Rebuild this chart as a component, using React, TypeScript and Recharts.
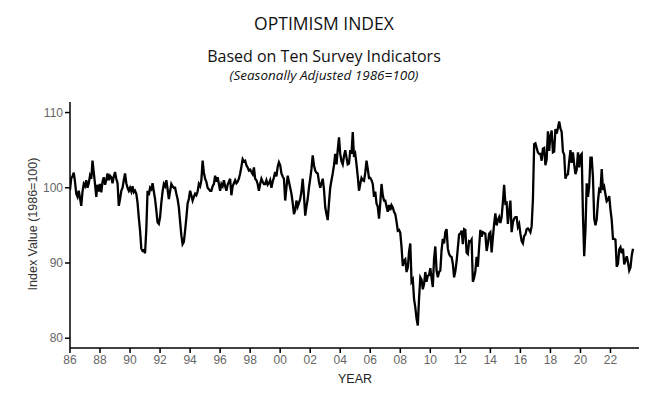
import React from "react";
import { LineChart, Line, XAxis, YAxis } from "recharts";

// monthly index values, Jan 1986 .. Jul 2023
const idx1986to1995 = [
  99.7, 101.3, 101.5, 102.0, 100.8, 99.2, 98.8, 99.6, 98.6, 97.6, 99.5, 100.5,
  100.2, 101.0, 100.0, 100.6, 101.6, 101.2, 103.6, 102.0, 100.5, 98.8, 100.4, 99.5,
  100.5, 99.4, 100.8, 101.4, 100.4, 101.0, 101.9, 101.0, 101.6, 101.4, 100.6, 101.5,
  102.1, 101.2, 100.6, 97.6, 98.5, 99.6, 100.0, 101.0, 101.9, 100.6, 100.0, 99.6,
  100.0, 99.5, 100.2, 99.4, 99.6, 99.2, 98.0, 96.0, 94.3, 91.9, 91.6, 91.7,
  91.3, 94.5, 99.6, 99.0, 100.0, 99.8, 100.6, 99.5, 98.5, 97.0, 95.4, 95.2,
  96.1, 98.0, 99.5, 100.5, 100.2, 101.0, 99.8, 98.5, 99.5, 100.5, 100.2, 100.0,
  100.0, 99.2, 98.5, 97.4, 95.5, 93.7, 92.5, 92.8, 94.3, 96.0, 97.9, 98.5,
  99.6, 99.0, 98.3, 98.8, 99.2, 99.0, 99.5, 100.5, 100.2, 101.0, 103.6, 102.0,
  101.2, 100.8, 100.0, 99.8, 99.6, 99.6, 100.2, 100.5, 101.6, 100.8, 101.4, 100.5,
];

const idx1996to2005 = [
  99.6, 100.5, 100.2, 101.0, 100.2, 99.6, 100.4, 100.8, 101.2, 99.0, 100.2, 100.6,
  101.0, 100.6, 100.8, 101.2, 101.9, 102.8, 103.8, 103.5, 103.6, 103.0, 102.7, 102.3,
  102.4, 102.1, 101.8, 102.7, 101.2, 101.0, 100.5, 99.6, 100.5, 101.2, 100.8, 100.5,
  100.5, 101.0, 100.4, 100.6, 101.0, 100.0, 100.8, 101.4, 102.1, 101.5, 102.8, 103.4,
  103.0, 101.9, 101.5, 101.2, 98.3, 100.0, 101.6, 100.8, 100.0, 99.2, 98.0, 96.5,
  97.0, 98.3, 97.5, 98.0, 98.5, 99.5, 101.2, 99.0, 96.3, 97.5, 98.5, 100.0,
  101.2, 102.5, 104.3, 103.0, 102.3, 102.0, 101.9, 100.8, 100.0, 100.6, 101.2, 99.8,
  97.4, 96.5, 95.7, 98.0, 100.0, 101.0, 101.9, 103.0, 104.5, 103.1, 105.0, 106.7,
  104.5, 103.5, 103.1, 104.2, 105.0, 104.0, 103.1, 103.2, 105.0, 104.5, 107.4, 104.1,
  104.5, 103.1, 101.5, 99.6, 100.5, 101.3, 101.0, 100.9, 102.0, 103.6, 102.5, 101.3,
];

const idx2006to2015 = [
  101.3, 101.0, 100.5, 98.8, 99.5, 97.9, 97.5, 95.9, 98.0, 100.5, 99.0, 98.3,
  98.3, 97.5, 96.8, 97.7, 97.0, 97.7, 97.4, 96.8, 96.5, 95.5, 94.3, 94.4,
  94.0, 92.1, 89.6, 90.3, 90.5, 88.8, 89.4, 91.5, 92.6, 87.5, 87.8, 85.2,
  84.1, 82.6, 81.7, 85.3, 88.1, 87.8, 86.5, 87.2, 88.8, 87.5, 88.3, 88.4,
  89.3, 88.0, 86.8, 90.6, 92.2, 89.0, 88.1, 88.8, 89.0, 91.7, 93.2, 92.6,
  94.1, 94.5, 91.9, 91.2, 90.9, 90.8, 89.9, 88.1, 88.9, 90.2, 92.0, 93.8,
  93.9, 94.3, 92.5, 94.5, 94.4, 91.4, 91.2, 92.9, 92.8, 93.1, 87.5, 88.0,
  88.9, 90.8, 89.5, 92.1, 94.4, 93.5, 94.1, 94.0, 93.9, 91.6, 92.5, 93.9,
  94.1, 91.4, 93.4, 95.2, 96.6, 95.0, 95.7, 96.1, 95.3, 96.1, 98.1, 100.4,
  97.9, 98.0, 95.2, 96.9, 98.3, 94.1, 95.4, 95.9, 96.1, 96.1, 94.8, 95.2,
];

const idx2016to2023 = [
  93.9, 92.9, 92.6, 93.6, 93.8, 94.5, 94.6, 94.4, 94.1, 94.9, 98.4, 105.8,
  105.9, 105.3, 104.7, 104.5, 104.5, 103.6, 105.2, 105.3, 103.0, 103.8, 107.5, 104.9,
  106.9, 107.6, 104.7, 104.8, 107.8, 107.2, 107.9, 108.8, 107.9, 107.4, 104.8, 104.4,
  101.2, 101.7, 101.8, 103.5, 105.0, 103.3, 104.7, 103.1, 101.8, 102.4, 104.7, 102.7,
  104.3, 104.5, 96.4, 90.9, 94.4, 100.6, 98.8, 100.2, 104.0, 104.0, 101.4, 95.9,
  95.0, 95.8, 98.2, 99.8, 99.6, 102.5, 99.7, 100.1, 99.1, 98.2, 98.4, 98.9,
  97.1, 95.7, 93.2, 93.2, 93.1, 89.5, 89.9, 91.8, 92.1, 91.3, 91.9, 89.8,
  90.3, 90.9, 90.1, 89.0, 89.4, 91.0, 91.9,
];

const startYear = 1986;
const yearTicks = [
  1986, 1988, 1990, 1992, 1994, 1996, 1998, 2000, 2002, 2004, 2006, 2008,
  2010, 2012, 2014, 2016, 2018, 2020, 2022,
];
const valueTicks = [80, 90, 100, 110];

const data = [...idx1986to1995, ...idx1996to2005, ...idx2006to2015, ...idx2016to2023].map(
  (v, i) => ({ t: startYear + i / 12, value: v })
);

const tickStyle = { fill: "#666", fontSize: 12, fontFamily: "Liberation Sans, Arial, sans-serif" };

export default function App() {
  return (
    <div
      style={{
        position: "absolute",
        left: 0,
        top: 0,
        width: 648,
        height: 396,
        background: "#fff",
        fontFamily: "'Open Sans', sans-serif",
        color: "#111",
      }}
    >
      <div style={{ position: "absolute", left: 0, width: 648, top: 11, textAlign: "center", fontSize: 17.5 }}>
        OPTIMISM INDEX
      </div>
      <div style={{ position: "absolute", left: 0, width: 648, top: 45, textAlign: "center", fontSize: 16 }}>
        Based on Ten Survey Indicators
      </div>
      <div
        style={{
          position: "absolute",
          left: 0,
          width: 648,
          top: 67,
          textAlign: "center",
          fontSize: 13.5,
          lineHeight: "16px",
          fontStyle: "italic",
        }}
      >
        (Seasonally Adjusted 1986=100)
      </div>

      <div style={{ position: "absolute", left: 0, top: 0 }}>
        <LineChart width={648} height={396} data={data} margin={{ top: 102, right: 9, bottom: 18, left: 30 }}>
          <XAxis
            dataKey="t"
            type="number"
            domain={[1986, 2023.9]}
            ticks={yearTicks}
            tickFormatter={(y: number) => String(y % 100).padStart(2, "0")}
            allowDataOverflow
            stroke="#000"
            strokeWidth={1.5}
            tickSize={5}
            tick={tickStyle}
            height={30}
          />
          <YAxis
            type="number"
            domain={[78.7, 111.4]}
            ticks={valueTicks}
            allowDataOverflow
            stroke="#000"
            strokeWidth={1.5}
            tickSize={5}
            tick={tickStyle}
            width={40}
          />
          <Line
            type="linear"
            dataKey="value"
            stroke="#000"
            strokeWidth={2.3}
            dot={false}
            isAnimationActive={false}
          />
        </LineChart>
      </div>

      <div
        style={{
          position: "absolute",
          left: 355,
          top: 379,
          transform: "translate(-50%, -50%)",
          fontSize: 12.5,
          fontFamily: "Liberation Sans, Arial, sans-serif",
          color: "#222",
        }}
      >
        YEAR
      </div>
      <div
        style={{
          position: "absolute",
          left: 33,
          top: 224,
          transform: "translate(-50%, -50%) rotate(-90deg)",
          whiteSpace: "nowrap",
          fontSize: 12.5,
          fontFamily: "Liberation Sans, Arial, sans-serif",
          color: "#333",
        }}
      >
        Index Value (1986=100)
      </div>
    </div>
  );
}
